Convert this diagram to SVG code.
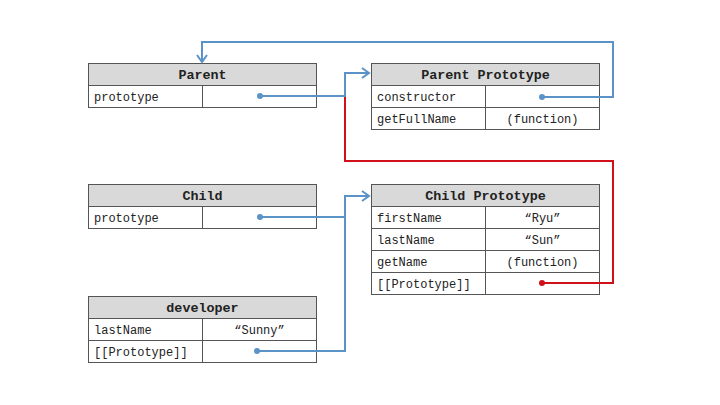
<svg xmlns="http://www.w3.org/2000/svg" width="720" height="405" viewBox="0 0 720 405">
<defs>
<style>
.hd{fill:#d9d9d9;stroke:#555;stroke-width:1}
.cell{fill:#fff;stroke:#555;stroke-width:1}
.ht{font-family:"Liberation Mono","Courier New",monospace;font-size:13.4px;font-weight:bold;fill:#222;text-anchor:middle}
.t{font-family:"Liberation Mono","Courier New",monospace;font-size:12px;fill:#222}
.v{font-family:"Liberation Mono","Courier New",monospace;font-size:12px;fill:#222;text-anchor:middle}
.blue{fill:none;stroke:#5b93c7;stroke-width:2}
.red{fill:none;stroke:#d0101a;stroke-width:2}
</style>
<marker id="ah" markerWidth="12" markerHeight="12" refX="9" refY="6" orient="auto" markerUnits="userSpaceOnUse">
<path d="M2,1 L9,6 L2,11" fill="none" stroke="#5b93c7" stroke-width="2"/>
</marker>
</defs>
<rect width="720" height="405" fill="#fff"/>

<g id="parent">
<rect class="hd" x="88.5" y="63.5" width="228" height="22"/>
<rect class="cell" x="88.5" y="85.5" width="114" height="22"/>
<rect class="cell" x="202.5" y="85.5" width="114" height="22"/>
<text class="ht" x="202.5" y="79">Parent</text>
<text class="t" x="94" y="100.5">prototype</text>
</g>

<g id="parent-prototype">
<rect class="hd" x="371.5" y="63.5" width="228" height="22"/>
<rect class="cell" x="371.5" y="85.5" width="114" height="22"/>
<rect class="cell" x="485.5" y="85.5" width="114" height="22"/>
<rect class="cell" x="371.5" y="107.5" width="114" height="22"/>
<rect class="cell" x="485.5" y="107.5" width="114" height="22"/>
<text class="ht" x="485.5" y="79">Parent Prototype</text>
<text class="t" x="377" y="100.5">constructor</text>
<text class="t" x="377" y="122.5">getFullName</text>
<text class="v" x="542.5" y="122.5">(function)</text>
</g>

<g id="child">
<rect class="hd" x="88.5" y="184.5" width="228" height="22"/>
<rect class="cell" x="88.5" y="206.5" width="114" height="22"/>
<rect class="cell" x="202.5" y="206.5" width="114" height="22"/>
<text class="ht" x="202.5" y="200">Child</text>
<text class="t" x="94" y="221.5">prototype</text>
</g>

<g id="child-prototype">
<rect class="hd" x="371.5" y="184.5" width="228" height="22"/>
<rect class="cell" x="371.5" y="206.5" width="114" height="22"/>
<rect class="cell" x="485.5" y="206.5" width="114" height="22"/>
<rect class="cell" x="371.5" y="228.5" width="114" height="22"/>
<rect class="cell" x="485.5" y="228.5" width="114" height="22"/>
<rect class="cell" x="371.5" y="250.5" width="114" height="22"/>
<rect class="cell" x="485.5" y="250.5" width="114" height="22"/>
<rect class="cell" x="371.5" y="272.5" width="114" height="22"/>
<rect class="cell" x="485.5" y="272.5" width="114" height="22"/>
<text class="ht" x="485.5" y="200">Child Prototype</text>
<text class="t" x="377" y="221.5">firstName</text>
<text class="v" x="542.5" y="221.5">“Ryu”</text>
<text class="t" x="377" y="243.5">lastName</text>
<text class="v" x="542.5" y="243.5">“Sun”</text>
<text class="t" x="377" y="265.5">getName</text>
<text class="v" x="542.5" y="265.5">(function)</text>
<text class="t" x="377" y="287.5">[[Prototype]]</text>
</g>

<g id="developer">
<rect class="hd" x="88.5" y="296.5" width="228" height="22"/>
<rect class="cell" x="88.5" y="318.5" width="114" height="22"/>
<rect class="cell" x="202.5" y="318.5" width="114" height="22"/>
<rect class="cell" x="88.5" y="340.5" width="114" height="22"/>
<rect class="cell" x="202.5" y="340.5" width="114" height="22"/>
<text class="ht" x="202.5" y="312">developer</text>
<text class="t" x="94" y="333.5">lastName</text>
<text class="v" x="259.5" y="333.5">“Sunny”</text>
<text class="t" x="94" y="355.5">[[Prototype]]</text>
</g>

<g id="connectors">
<path class="red" d="M345,97 V161 H613 V283 H542"/>
<circle cx="542" cy="283" r="3" fill="#d0101a"/>
<path class="blue" d="M260,96 H345 V73 H369" marker-end="url(#ah)"/>
<circle cx="260" cy="96" r="3" fill="#5b93c7"/>
<path class="blue" d="M542,97 H613 V42 H202 V62" marker-end="url(#ah)"/>
<circle cx="542" cy="97" r="3" fill="#5b93c7"/>
<path class="blue" d="M260,217 H345"/>
<circle cx="260" cy="217" r="3" fill="#5b93c7"/>
<path class="blue" d="M257,351 H345 V196 H369" marker-end="url(#ah)"/>
<circle cx="257" cy="351" r="3" fill="#5b93c7"/>
</g>
</svg>
